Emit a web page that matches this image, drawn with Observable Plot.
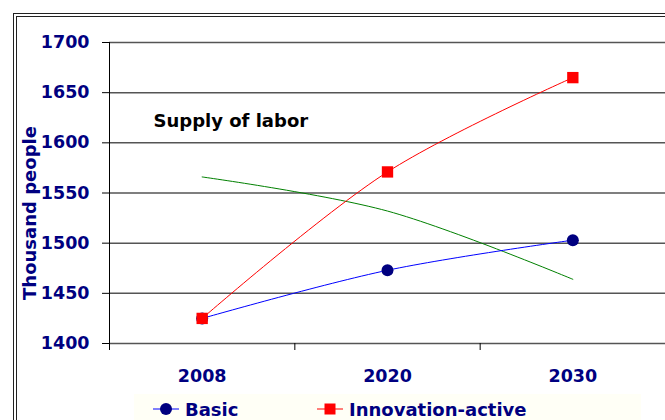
<!DOCTYPE html>
<html>
<head>
<meta charset="utf-8">
<script src="https://cdn.jsdelivr.net/npm/d3@7"></script>
<script src="https://cdn.jsdelivr.net/npm/@observablehq/plot@0.6"></script>
<style>
  html, body { margin: 0; padding: 0; background: #fff; overflow: hidden; }
  #wrap { position: relative; width: 665px; height: 420px; font-family: "DejaVu Sans", sans-serif; }
  #border { position: absolute; left: 13px; top: 13px; width: 700px; height: 460px; border: 4px double #222; box-sizing: border-box; pointer-events: none; }
  #chart { position: absolute; left: 0; top: 0; }
  #legend { position: absolute; left: 134px; top: 394px; width: 507px; height: 30px; background: #fffff6; }
  .item { position: absolute; top: 0; height: 30px; display: flex; align-items: center; color: #000080; font-weight: bold; font-size: 18px; }
  .item svg { margin-right: 6px; }
</style>
</head>
<body>
<div id="wrap">
  <div id="chart"></div>
  <div id="border"></div>
  <div id="legend"></div>
</div>
<script>
const years = ["2008", "2020", "2030"];
const basic = [1425, 1473, 1503];
const innovation = [1425, 1571, 1665];
const thirdSeries = [1566, 1532, 1464];
const yTicks = [1400, 1450, 1500, 1550, 1600, 1650, 1700];
const titleText = "Supply of labor";
const yLabel = "Thousand people";
const legendNames = ["Basic", "Innovation-active"];

const idx = years.map((_, i) => i);
const bounds = [-0.5, ...idx.map(i => i + 0.5)];
const navy = "#000080";

const chart = Plot.plot({
  width: 665,
  height: 392,
  marginLeft: 109,
  marginRight: 0,
  marginTop: 42,
  marginBottom: 49,
  style: {fontFamily: "DejaVu Sans, sans-serif", background: "transparent", overflow: "visible"},
  x: {type: "linear", domain: [-0.5, 2.5]},
  y: {domain: [1400, 1700]},
  marks: [
    Plot.gridY(yTicks, {stroke: "#555", strokeOpacity: 1, strokeWidth: 1.5}),
    Plot.ruleX([-0.5], {stroke: "#000", strokeWidth: 1}),
    Plot.axisY(yTicks, {tickSize: 7, tickFormat: () => "", stroke: "#000", label: null}),
    Plot.axisY(yTicks, {tickSize: 0, tickPadding: 20, tickFormat: d => String(d), fill: navy, fontSize: 17.5, fontWeight: "bold", label: null}),
    Plot.axisX(bounds, {tickSize: 7, tickFormat: () => "", stroke: "#000", label: null}),
    Plot.axisX(idx, {tickSize: 0, tickPadding: 26, tickFormat: i => years[i], fill: navy, fontSize: 17.5, fontWeight: "bold", label: null}),
    Plot.line(thirdSeries, {x: (d, i) => i, y: d => d, stroke: "#008000", strokeWidth: 1, curve: "catmull-rom"}),
    Plot.line(basic, {x: (d, i) => i, y: d => d, stroke: "#0000ff", strokeWidth: 1, curve: "catmull-rom"}),
    Plot.line(innovation, {x: (d, i) => i, y: d => d, stroke: "#ff0000", strokeWidth: 1, curve: "catmull-rom"}),
    Plot.dot(basic, {x: (d, i) => i, y: d => d, r: 6, fill: navy, stroke: "none"}),
    Plot.dot(innovation, {x: (d, i) => i, y: d => d, r: 6.4, symbol: "square", fill: "#ff0000", stroke: "none"}),
    Plot.text([titleText], {frameAnchor: "top-left", text: d => d, dx: 44, dy: 84, textAnchor: "start", lineAnchor: "bottom", fontSize: 18, fontWeight: "bold", fill: "#000"}),
    Plot.text([yLabel], {frameAnchor: "left", text: d => d, dx: -79, dy: 20, rotate: -90, textAnchor: "middle", lineAnchor: "middle", fontSize: 18, fontWeight: "bold", fill: navy})
  ]
});
document.getElementById("chart").appendChild(chart);

// Legend (HTML)
const legend = document.getElementById("legend");
const items = [
  {name: legendNames[0], left: 19, color: "#0000ff", marker: "circle"},
  {name: legendNames[1], left: 183, color: "#ff0000", marker: "square"}
];
for (const it of items) {
  const div = document.createElement("div");
  div.className = "item";
  div.style.left = it.left + "px";
  const svg = d3.create("svg").attr("width", 26).attr("height", 14);
  svg.append("line").attr("x1", 0).attr("x2", 26).attr("y1", 7).attr("y2", 7).attr("stroke", it.color).attr("stroke-width", 1);
  if (it.marker === "circle") svg.append("circle").attr("cx", 13).attr("cy", 7).attr("r", 6).attr("fill", navy);
  else svg.append("rect").attr("x", 7.5).attr("y", 1.5).attr("width", 11).attr("height", 11).attr("fill", "#ff0000");
  div.appendChild(svg.node());
  const span = document.createElement("span");
  span.textContent = it.name;
  div.appendChild(span);
  legend.appendChild(div);
}
</script>
</body>
</html>
